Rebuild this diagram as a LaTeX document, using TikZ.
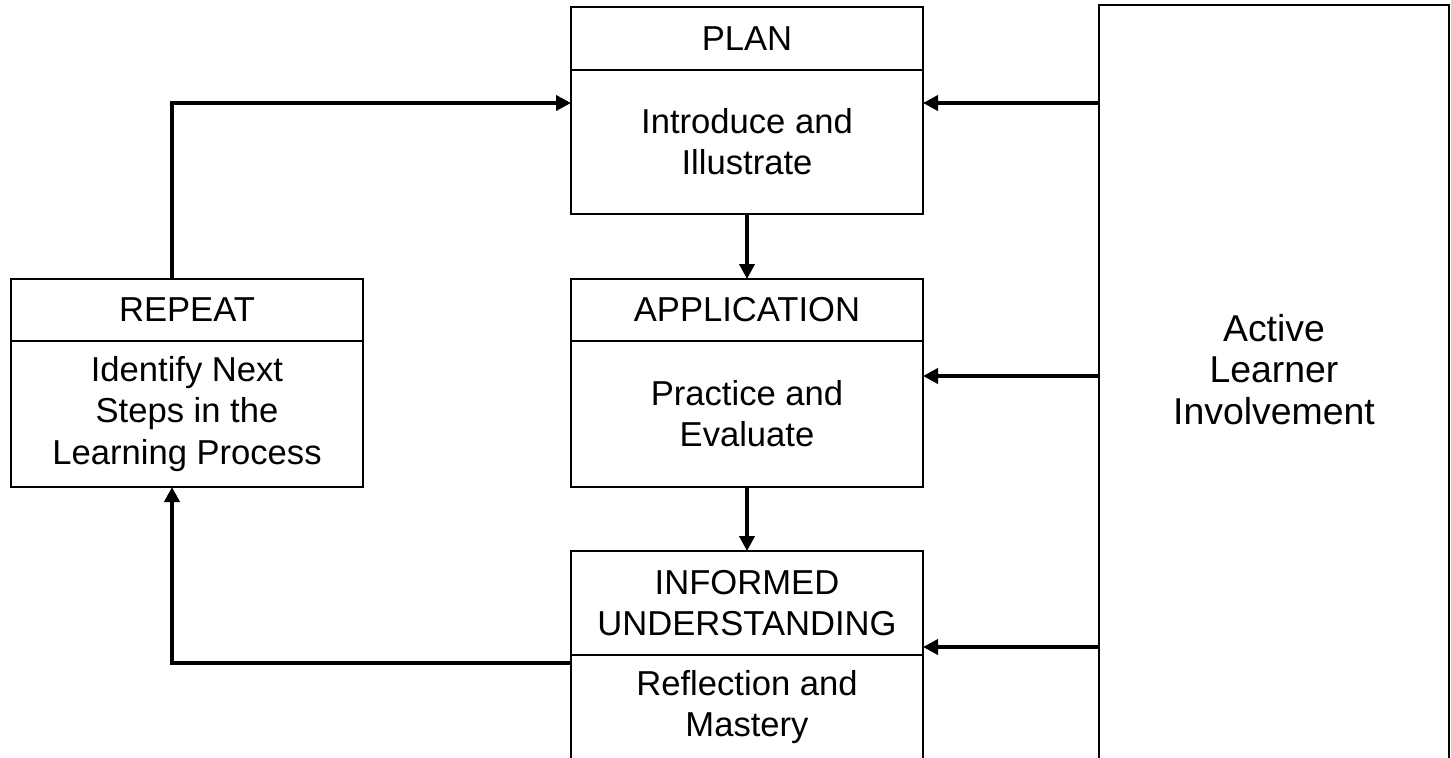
\documentclass[tikz,border=0pt]{standalone}
\usepackage{fontspec}
\setmainfont{Liberation Sans}
\usetikzlibrary{positioning,arrows.meta}

\begin{document}
\begin{tikzpicture}[x=0.5pt,y=-0.5pt]
 	\tikzstyle{txt}=[align=center, font=\fontsize{17.3pt}{20.6pt}\selectfont]
 	\tikzstyle{stage}=[txt, rectangle, draw=black, line width=1pt, minimum width=176pt, inner sep=0pt, outer sep=0pt]
 	\tikzstyle{head}=[stage, minimum height=31pt]
 	\tikzstyle{body}=[stage, minimum height=73pt]
 	\tikzstyle{connect}=[-{Triangle[length=7.5pt,width=7.5pt]}, line width=2pt]
 	\useasboundingbox (0,0) rectangle (1451,757);
 	\clip (0,0) rectangle (1451,757);
 	\node[head, minimum height=31.5pt] (plan) at (747,38.5) {PLAN};
 		\node[body, minimum height=72pt] (plantxt) [below=0pt of plan] {Introduce and\\Illustrate};
 	\node[head] (app) at (747,310) {APPLICATION};
 		\node[body] (apptxt) [below=0pt of app] {Practice and\\Evaluate};
 	\node[head, minimum height=52pt] (inf) at (747,603) {INFORMED\\UNDERSTANDING};
 		\node[body, minimum height=52pt] (inftxt) [below=0pt of inf] {Reflection and\\Mastery};
 	\node[head] (rep) at (187,310) {REPEAT};
 		\node[body] (reptxt) [below=0pt of rep] {Identify Next\\Steps in the\\Learning Process};
 	\node[stage, minimum width=175pt, minimum height=397.5pt] (active) at (1274,402.5) [label={[txt, font=\fontsize{18.7pt}{20.75pt}\selectfont, yshift=16.5pt]center:{Active\\Learner\\Involvement}}] {};

 	\coordinate (r1) at (0,103);
 	\coordinate (r2) at (0,376);
 	\coordinate (r3) at (0,647);
 	\coordinate (turn) at (172,663);

 	\path (plantxt) edge [connect] (app)
 		(apptxt) edge [connect] (inf)
 			(active.west |- r1) edge [connect] (plantxt.east |- r1)
 			(active.west |- r2) edge [connect] (apptxt.east |- r2)
 			(active.west |- r3) edge [connect] (inftxt.east |- r3);
 	\draw[connect] (inftxt.west |- turn) -- (turn) -- (turn |- reptxt.south);
 	\draw[connect] (turn |- rep.north) |- (plantxt.west |- r1);
\end{tikzpicture}
\end{document}
